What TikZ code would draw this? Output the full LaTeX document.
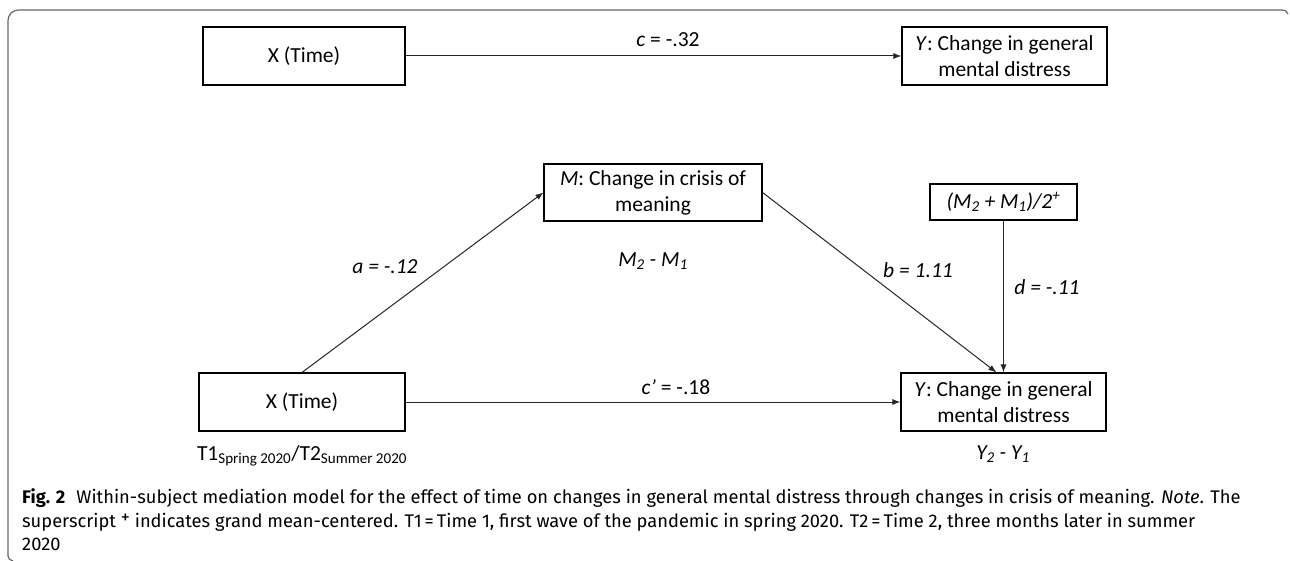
\documentclass[tikz,border=0pt]{standalone}
\usepackage{fontspec}
\setmainfont{Carlito}
\newfontfamily\capfont{Fira Sans}
\usetikzlibrary{arrows.meta}
\begin{document}
\begin{tikzpicture}[x=1pt,y=-1pt,
  box/.style={draw=black,line width=1.1pt,minimum height=58pt,inner sep=0pt,align=center,font=\fontsize{21.5}{26}\selectfont},
  lbl/.style={inner sep=0pt,font=\fontsize{21.5}{24}\selectfont},
  arr/.style={draw=black!85,line width=1pt,-{Latex[length=8pt,width=6pt]}},
  framestyle/.style={draw=black!60,line width=1.2pt},
  captext/.style={anchor=base west,inner sep=0pt,font=\capfont\fontsize{18.3}{23.5}\selectfont}]
\useasboundingbox (0,0) rectangle (1290,561);
% frame
\draw[framestyle] (8,556) .. controls (8,559) and (10,560) .. (13,561);
\draw[framestyle] (8,556) -- (8,22) .. controls (8,14) and (12,10) .. (20,10) -- (1282,10) .. controls (1285,10) and (1287,11) .. (1288,14);
% top model
\node[box,minimum width=202pt] (X1) at (304,56) {X (Time)};
\node[box,minimum width=205pt] (Y1) at (1004.5,56) {\textit{Y}: Change in general\\mental distress};
\draw[arr] (X1.east) -- (Y1.west);
\node[lbl] (c) at (668,40) {\textit{c} = -.32};
% bottom model
\node[box,minimum width=218pt,minimum height=57pt] (M) at (653,192.5) {\textit{M}: Change in crisis of\\meaning};
\node[box,minimum width=147pt,minimum height=36pt] (Mavg) at (1003.5,202) {\textit{(M\textsubscript{2} + M\textsubscript{1})/2\textsuperscript{+}}};
\node[box,minimum width=206pt] (X2) at (302,402) {X (Time)};
\node[box,minimum width=205pt] (Y2) at (1003.5,402) {\textit{Y}: Change in general\\mental distress};
\draw[arr] (X2.north) -- (M.west);
\draw[arr] (M.east) -- ([xshift=-7pt]Y2.north);
\draw[arr] (Mavg.south) -- (Y2.north);
\draw[arr] (X2.east) -- (Y2.west);
\node[lbl] (a) at (385,267) {\textit{a = -.12}};
\node[lbl] (b) at (918,270) {\textit{b = 1.11}};
\node[lbl] (d) at (1047,287) {\textit{d = -.11}};
\node[lbl] (cp) at (676,387) {\textit{c\textquoteright} = -.18};
\node[lbl] (mdiff) at (653,261) {\textit{M\textsubscript{2} - M\textsubscript{1}}};
\node[lbl] (ydiff) at (1003,454) {\textit{Y\textsubscript{2} - Y\textsubscript{1}}};
\node[lbl] (tt) at (302,456) {T1\textsubscript{Spring 2020}/T2\textsubscript{Summer 2020}};
% caption
\node[captext] (cap1) at (22,503) {\textbf{Fig. 2}\hspace{0.6em}Within-subject mediation model for the effect of time on changes in general mental distress through changes in crisis of meaning. \textit{Note}. The};
\node[captext] (cap2) at (22,527) {superscript \raisebox{0.35ex}{+} indicates grand mean-centered. T1\,=\,Time 1, first wave of the pandemic in spring 2020. T2\,=\,Time 2, three months later in summer};
\node[captext] (cap3) at (22,550) {2020};
\end{tikzpicture}
\end{document}
